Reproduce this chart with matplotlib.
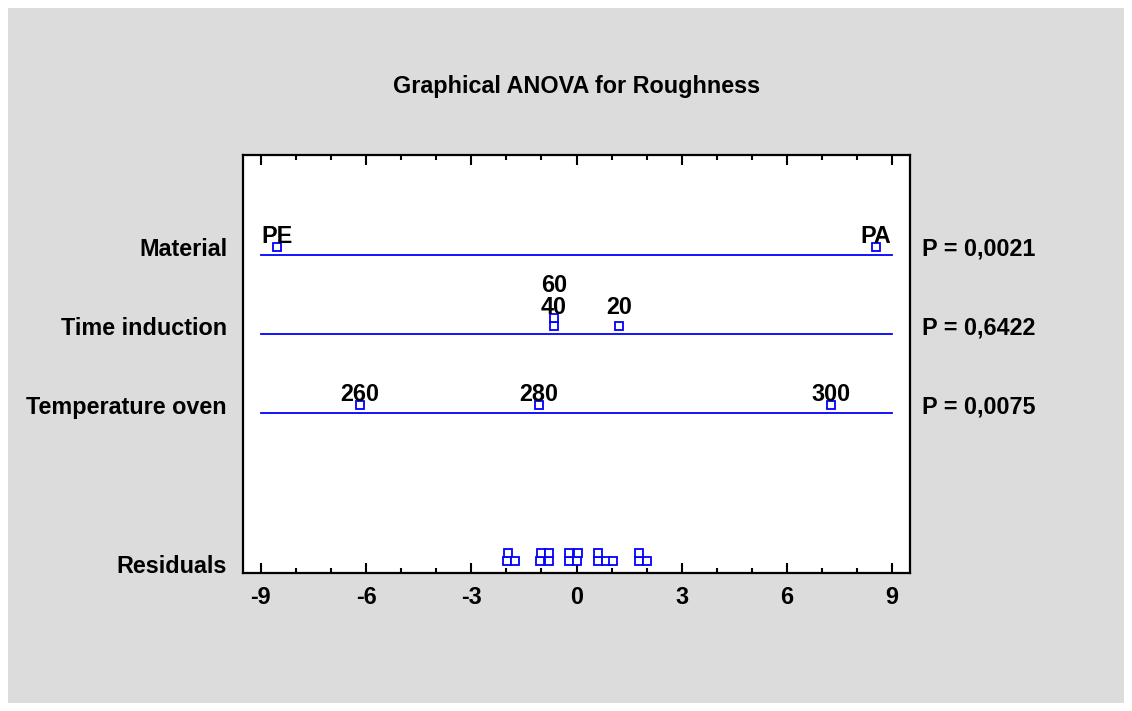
import numpy as np
import matplotlib
matplotlib.use("Agg")
import matplotlib.pyplot as plt
from matplotlib.patches import Rectangle
from matplotlib.ticker import MultipleLocator

plt.rcParams["font.family"] = ["Liberation Sans", "DejaVu Sans"]
plt.rcParams["font.weight"] = "bold"
plt.rcParams["axes.unicode_minus"] = False

# Factor effects
factor_names = ["Material", "Time induction", "Temperature oven"]
p_values = ["P = 0,0021", "P = 0,6422", "P = 0,0075"]

material_levels = ["PE", "PA"]
material_effects = [-8.54, 8.54]

time_levels = ["20", "40", "60"]
time_effects = [1.22, -0.64, -0.64]

temp_levels = ["260", "280", "300"]
temp_effects = [-6.18, -1.07, 7.27]

residuals = [-1.98, -1.96, -1.75, -1.03, -1.01, -0.79, -0.77, -0.22, -0.20,
             0.01, 0.03, 0.60, 0.62, 0.83, 1.03, 1.77, 1.79, 2.00]

BLUE = "#0000ff"
BG = "#dcdcdc"
FS = 16.8


def stack_levels(vals, tol=0.1):
    # greedy stacking of points that would overlap
    levels = []
    for i, v in enumerate(vals):
        lev = 0
        while any(levels[j] == lev and abs(vals[j] - v) < tol for j in range(i)):
            lev += 1
        levels.append(lev)
    return levels


fig = plt.figure(figsize=(11.32, 7.11), dpi=100, facecolor="white")
fig.patches.append(Rectangle((8 / 1132, 8 / 711), 1 - 16 / 1132, 1 - 16 / 711,
                             transform=fig.transFigure, facecolor=BG,
                             edgecolor="none", zorder=-10))
ax = fig.add_axes([243 / 1132, 1 - 573 / 711, 667 / 1132, 418 / 711])
ax.set_facecolor("white")

ax.set_xlim(-9.51, 9.51)
ax.set_ylim(-1.033, 4.268)

rows = [3, 2, 1]
groups = [(material_levels, material_effects),
          (time_levels, time_effects),
          (temp_levels, temp_effects)]
box_off = 0.1
step = 0.1

for row, (levs, effs), name, pv in zip(rows, groups, factor_names, p_values):
    ax.plot([-9, 9], [row, row], color=BLUE, lw=1.3, zorder=2)
    stk = stack_levels(effs)
    ys = [row + box_off + s * step for s in stk]
    ax.plot(effs, ys, ls="none", marker="s", ms=5.5, mew=1.3, mec=BLUE,
            mfc="white", zorder=3)
    base = max(ys) + 0.05
    for lab, x, s in zip(levs, effs, stk):
        ax.text(x, base + s * 0.28, lab, ha="center", va="baseline",
                fontsize=FS, fontweight="bold", zorder=4)
    ax.annotate(name, xy=(0, row + 0.07), xycoords=("axes fraction", "data"),
                xytext=(-11.5, 0), textcoords="offset points",
                ha="right", va="center", fontsize=FS, fontweight="bold")
    ax.annotate(pv, xy=(1, row + 0.07), xycoords=("axes fraction", "data"),
                xytext=(9, 0), textcoords="offset points",
                ha="left", va="center", fontsize=FS, fontweight="bold")

# residuals row
res_y = -0.88
rstk = stack_levels(residuals)
ax.plot(residuals, [res_y + s * step for s in rstk], ls="none", marker="s",
        ms=5.5, mew=1.3, mec=BLUE, mfc="white", zorder=3)
ax.annotate("Residuals", xy=(0, res_y - 0.07), xycoords=("axes fraction", "data"),
            xytext=(-11.5, 0), textcoords="offset points",
            ha="right", va="center", fontsize=FS, fontweight="bold")

ax.xaxis.set_major_locator(MultipleLocator(3))
ax.xaxis.set_minor_locator(MultipleLocator(1))
ax.set_yticks([])
ax.tick_params(axis="x", which="both", direction="in", top=True, bottom=True,
               labelsize=FS, width=1.5, pad=9)
ax.tick_params(axis="x", which="major", length=7)
ax.tick_params(axis="x", which="minor", length=3.5)
for lab in ax.get_xticklabels():
    lab.set_fontweight("bold")
for sp in ax.spines.values():
    sp.set_linewidth(1.6)

fig.text(576.5 / 1132, 1 - 87 / 711, "Graphical ANOVA for Roughness",
         ha="center", va="center", fontsize=FS, fontweight="bold")

fig.savefig("out.png", dpi=100, facecolor=fig.get_facecolor())
